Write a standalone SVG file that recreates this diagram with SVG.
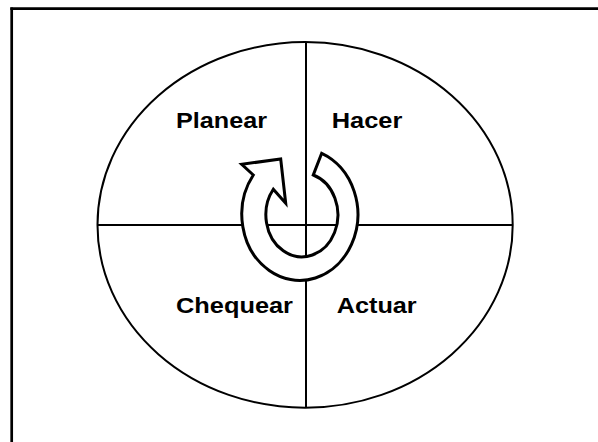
<svg xmlns="http://www.w3.org/2000/svg" width="598" height="442" viewBox="0 0 598 442">
  <style>
    .frame { stroke: #000; stroke-width: 2.7; fill: none; }
    .line { stroke: #000; stroke-width: 2; fill: none; }
    .lbl { font-family: "Liberation Sans", Arial, sans-serif; font-weight: bold; font-size: 22px; fill: #000; }
    .arrow { fill: #fff; stroke: #000; stroke-width: 3; stroke-linejoin: miter; }
  </style>
  <rect width="598" height="442" fill="#fff"/>
  <g id="frame">
    <line class="frame" x1="10.3" y1="8.7" x2="598" y2="8.7"/>
    <line class="frame" x1="11.7" y1="7.4" x2="11.7" y2="442"/>
  </g>
  <g id="cycle">
    <ellipse class="line" cx="305.1" cy="224.9" rx="207.6" ry="182.8"/>
  </g>
  <g id="connectors">
    <line class="line" x1="306" y1="42" x2="306" y2="407.7"/>
    <line class="line" x1="97.5" y1="225" x2="512.7" y2="225"/>
  </g>
  <g id="planear"><text class="lbl" x="176" y="128.3" textLength="91" lengthAdjust="spacingAndGlyphs">Planear</text></g>
  <g id="hacer"><text class="lbl" x="331.7" y="128.3" textLength="70.6" lengthAdjust="spacingAndGlyphs">Hacer</text></g>
  <g id="chequear"><text class="lbl" x="176" y="313.3" textLength="117" lengthAdjust="spacingAndGlyphs">Chequear</text></g>
  <g id="actuar"><text class="lbl" x="336.7" y="313.3" textLength="80" lengthAdjust="spacingAndGlyphs">Actuar</text></g>
  <g id="arrow">
    <path class="arrow" d="M 253.3,175 L 241.7,164.3 L 280.7,159 L 285.7,203.3 L 273.3,189.3 A 36,42 0 1 0 313.3,175 L 321.7,153.3 A 58,66 0 1 1 253.3,175 Z"/>
  </g>
</svg>
